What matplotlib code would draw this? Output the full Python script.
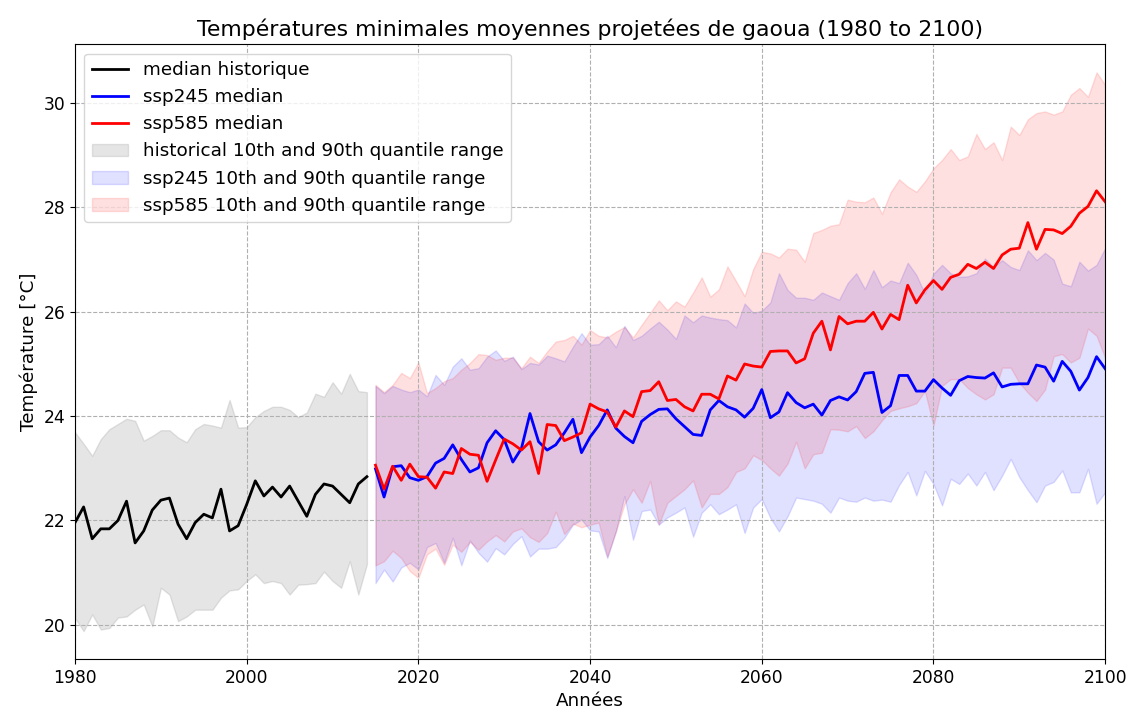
import matplotlib
matplotlib.use("Agg")
import matplotlib.pyplot as plt
import numpy as np

# historical period (1980-2014)
hist_years = np.arange(1980, 2015)
hist_median = [21.96, 22.26, 21.65, 21.84, 21.84, 22.00, 22.37, 21.57, 21.80, 22.20,
               22.39, 22.43, 21.93, 21.65, 21.96, 22.12, 22.05, 22.60, 21.80, 21.90,
               22.31, 22.76, 22.47, 22.64, 22.45, 22.66, 22.37, 22.08, 22.50, 22.70,
               22.66, 22.50, 22.34, 22.70, 22.84]
hist_q90 = [23.69, 23.47, 23.24, 23.56, 23.75, 23.85, 23.95, 23.91, 23.53, 23.62,
            23.73, 23.73, 23.59, 23.50, 23.75, 23.85, 23.82, 23.78, 24.31, 23.78,
            23.79, 23.98, 24.10, 24.18, 24.18, 24.12, 23.98, 24.07, 24.43, 24.37,
            24.65, 24.43, 24.81, 24.48, 24.46]
hist_q10 = [20.13, 19.88, 20.20, 19.91, 19.94, 20.14, 20.16, 20.29, 20.39, 19.97,
            20.71, 20.58, 20.07, 20.16, 20.29, 20.29, 20.29, 20.52, 20.66, 20.68,
            20.84, 20.97, 20.80, 20.84, 20.80, 20.58, 20.77, 20.78, 20.80, 21.02,
            20.84, 20.71, 21.22, 20.58, 21.16]

# projections (2015-2100)
proj_years = np.arange(2015, 2101)
ssp245_median = [22.99, 22.45, 23.03, 23.05, 22.82, 22.77, 22.84, 23.10, 23.19, 23.45,
                 23.17, 22.93, 23.01, 23.49, 23.72, 23.55, 23.12, 23.38, 24.05, 23.51,
                 23.35, 23.45, 23.68, 23.94, 23.30, 23.60, 23.82, 24.12, 23.77, 23.61,
                 23.49, 23.90, 24.03, 24.13, 24.14, 23.95, 23.80, 23.65, 23.63, 24.12,
                 24.30, 24.18, 24.12, 23.98, 24.15, 24.51, 23.97, 24.08, 24.45, 24.26,
                 24.16, 24.23, 24.02, 24.30, 24.37, 24.31, 24.47, 24.82, 24.84, 24.07,
                 24.20, 24.78, 24.78, 24.48, 24.48, 24.70, 24.54, 24.40, 24.68, 24.76,
                 24.74, 24.73, 24.83, 24.56, 24.61, 24.62, 24.62, 24.98, 24.94, 24.67,
                 25.05, 24.86, 24.50, 24.74, 25.14, 24.91]
ssp585_median = [23.06, 22.60, 23.04, 22.77, 23.08, 22.84, 22.83, 22.62, 22.93, 22.90,
                 23.38, 23.27, 23.25, 22.75, 23.16, 23.56, 23.47, 23.35, 23.51, 22.90,
                 23.84, 23.82, 23.53, 23.60, 23.68, 24.23, 24.14, 24.08, 23.79, 24.10,
                 23.99, 24.47, 24.49, 24.66, 24.30, 24.32, 24.18, 24.10, 24.42, 24.42,
                 24.33, 24.77, 24.69, 25.00, 24.96, 24.94, 25.24, 25.25, 25.25, 25.02,
                 25.10, 25.59, 25.82, 25.27, 25.91, 25.77, 25.82, 25.82, 25.99, 25.67,
                 25.95, 25.85, 26.51, 26.17, 26.42, 26.60, 26.43, 26.66, 26.72, 26.91,
                 26.83, 26.95, 26.83, 27.09, 27.20, 27.22, 27.71, 27.20, 27.58, 27.57,
                 27.50, 27.64, 27.89, 28.02, 28.32, 28.11]
ssp245_q90 = [24.58, 24.44, 24.58, 24.51, 24.46, 24.51, 24.38, 24.79, 24.60, 24.95,
              25.11, 24.89, 24.92, 25.14, 25.26, 25.06, 25.14, 24.90, 25.02, 24.99,
              25.16, 25.11, 25.05, 25.33, 25.59, 25.37, 25.38, 25.54, 25.32, 25.73,
              25.46, 25.54, 25.68, 25.81, 25.66, 25.48, 25.93, 25.80, 25.93, 25.89,
              25.86, 25.84, 25.70, 26.16, 25.98, 26.02, 26.18, 26.74, 26.42, 26.27,
              26.27, 26.23, 26.37, 26.30, 26.23, 26.55, 26.74, 26.44, 26.80, 26.47,
              26.60, 26.55, 26.94, 26.71, 26.35, 26.73, 26.90, 26.74, 26.67, 26.68,
              26.74, 27.02, 26.86, 26.99, 26.86, 26.80, 27.18, 26.99, 27.13, 27.00,
              26.54, 26.49, 26.96, 26.79, 26.90, 27.22]
ssp245_q10 = [20.80, 21.06, 20.83, 21.10, 21.19, 21.06, 21.49, 21.57, 21.19, 21.67,
              21.14, 21.62, 21.38, 21.21, 21.47, 21.35, 21.55, 21.70, 21.31, 21.46,
              21.46, 21.49, 21.67, 21.92, 22.02, 21.81, 21.79, 21.28, 21.79, 22.47,
              21.63, 22.18, 22.21, 21.92, 22.06, 22.15, 22.25, 21.69, 22.15, 22.31,
              22.12, 22.21, 22.31, 21.76, 22.25, 22.41, 22.05, 21.79, 22.08, 22.44,
              22.41, 22.38, 22.32, 22.15, 22.44, 22.38, 22.36, 22.44, 22.38, 22.40,
              22.36, 22.68, 22.93, 22.48, 22.95, 22.70, 22.29, 22.80, 22.70, 22.90,
              22.67, 22.93, 22.58, 22.86, 23.18, 22.83, 22.58, 22.35, 22.67, 22.74,
              22.96, 22.54, 22.54, 22.99, 22.32, 22.54]
ssp585_q90 = [24.60, 24.46, 24.60, 24.83, 24.73, 25.03, 24.44, 24.54, 24.67, 24.73,
              24.89, 25.02, 25.19, 25.17, 25.08, 25.12, 25.12, 24.92, 25.14, 25.02,
              25.24, 25.43, 25.46, 25.54, 25.37, 25.65, 25.54, 25.51, 25.62, 25.71,
              25.51, 25.75, 25.98, 26.22, 26.03, 26.20, 26.10, 26.37, 26.66, 26.29,
              26.43, 26.87, 26.59, 26.30, 26.82, 27.15, 27.12, 27.04, 27.21, 27.19,
              26.96, 27.51, 27.57, 27.65, 27.68, 28.15, 28.11, 28.10, 28.19, 27.88,
              28.29, 28.54, 28.40, 28.30, 28.50, 28.75, 28.91, 29.12, 28.91, 28.98,
              29.41, 29.12, 29.25, 28.91, 29.55, 29.39, 29.69, 29.81, 29.84, 29.78,
              29.84, 30.16, 30.29, 30.12, 30.59, 30.35]
ssp585_q10 = [21.14, 21.22, 21.42, 21.28, 21.03, 20.90, 21.35, 21.46, 21.15, 21.54,
              21.40, 21.59, 21.44, 21.60, 21.72, 21.60, 21.79, 21.85, 21.68, 21.59,
              21.76, 22.17, 21.74, 21.94, 21.87, 21.92, 21.96, 21.31, 21.79, 22.31,
              22.60, 22.34, 22.76, 21.92, 22.34, 22.47, 22.60, 22.77, 22.25, 22.51,
              22.51, 22.64, 22.93, 23.00, 23.25, 23.16, 23.00, 22.86, 23.09, 23.51,
              23.00, 23.27, 23.30, 23.75, 23.74, 23.71, 23.81, 23.58, 23.71, 23.92,
              24.10, 24.15, 24.19, 24.25, 24.48, 23.82, 24.58, 24.71, 24.71, 24.54,
              24.42, 24.32, 24.42, 24.93, 24.93, 24.64, 24.45, 24.29, 24.51, 25.15,
              25.19, 25.03, 25.12, 25.68, 25.54, 25.12]

plt.rcParams["font.size"] = 13.2
plt.rcParams["xtick.labelsize"] = 12.3
plt.rcParams["ytick.labelsize"] = 12.3

fig = plt.figure(figsize=(11.3, 7.13), dpi=100)
ax = fig.add_axes([0.0664, 0.0757, 0.9116, 0.862])

ax.plot(hist_years, hist_median, color="black", lw=2, label="median historique")
ax.plot(proj_years, ssp245_median, color="blue", lw=2, label="ssp245 median")
ax.plot(proj_years, ssp585_median, color="red", lw=2, label="ssp585 median")
ax.fill_between(hist_years, hist_q10, hist_q90, color="grey", alpha=0.2,
                label="historical 10th and 90th quantile range")
ax.fill_between(proj_years, ssp245_q10, ssp245_q90, color="blue", alpha=0.12,
                label="ssp245 10th and 90th quantile range")
ax.fill_between(proj_years, ssp585_q10, ssp585_q90, color="red", alpha=0.12,
                label="ssp585 10th and 90th quantile range")

ax.set_xlim(1980, 2100)
ax.set_xticks(np.arange(1980, 2101, 20))
ax.grid(True, linestyle="--")
ax.set_title("Températures minimales moyennes projetées de gaoua (1980 to 2100)")
ax.set_xlabel("Années")
ax.set_ylabel("Température [°C]")
ax.legend(loc="upper left")

fig.savefig("out.png", dpi=100)
